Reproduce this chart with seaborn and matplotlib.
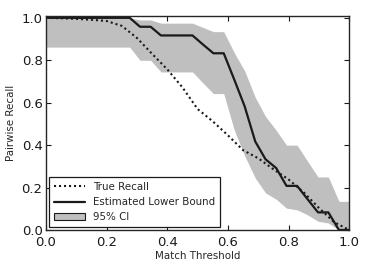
import numpy as np
import pandas as pd
import matplotlib
matplotlib.use("Agg")
import matplotlib.pyplot as plt
import seaborn as sns
from matplotlib.patches import Patch
from matplotlib.lines import Line2D

# match thresholds used by the estimator (and its CI band)
thresholds = [0.0, 0.034, 0.069, 0.103, 0.138, 0.172, 0.207, 0.241, 0.276, 0.310,
              0.345, 0.379, 0.414, 0.448, 0.483, 0.517, 0.552, 0.586, 0.621, 0.655,
              0.690, 0.724, 0.759, 0.793, 0.828, 0.862, 0.897, 0.931, 0.966, 1.0]

lower_bound = [1.0, 1.0, 1.0, 1.0, 1.0, 1.0, 1.0, 1.0, 1.0, 0.958,
               0.958, 0.917, 0.917, 0.917, 0.917, 0.875, 0.833, 0.833, 0.708, 0.583,
               0.417, 0.333, 0.292, 0.208, 0.208, 0.146, 0.083, 0.083, 0.0, 0.0]

ci_upper = [1.0, 1.0, 1.0, 1.0, 1.0, 1.0, 1.0, 1.0, 1.0, 0.99,
            0.99, 0.975, 0.975, 0.975, 0.975, 0.955, 0.935, 0.935, 0.835, 0.75,
            0.625, 0.535, 0.47, 0.40, 0.40, 0.325, 0.25, 0.25, 0.135, 0.135]

ci_lower = [0.862, 0.862, 0.862, 0.862, 0.862, 0.862, 0.862, 0.862, 0.862, 0.80,
            0.80, 0.745, 0.745, 0.745, 0.745, 0.694, 0.643, 0.643, 0.47, 0.35,
            0.245, 0.175, 0.145, 0.103, 0.095, 0.072, 0.041, 0.033, 0.0, 0.0]

# true recall, sampled more finely
true_x = [0.0, 0.05, 0.10, 0.15, 0.20, 0.25, 0.30, 0.35, 0.40, 0.45, 0.50,
          0.55, 0.60, 0.65, 0.70, 0.75, 0.80, 0.85, 0.90, 0.95, 1.0]
true_recall = [1.0, 0.998, 0.995, 0.991, 0.985, 0.962, 0.905, 0.830, 0.757, 0.672, 0.570,
               0.512, 0.446, 0.376, 0.338, 0.286, 0.238, 0.177, 0.104, 0.037, 0.0]

ticks = [0.0, 0.2, 0.4, 0.6, 0.8, 1.0]
tick_labels = ["0.0", "0.2", "0.4", "0.6", "0.8", "1.0"]

sns.set_theme(style="ticks", rc={
    "xtick.direction": "in", "ytick.direction": "in",
    "xtick.top": True, "ytick.right": True,
    "xtick.major.size": 3.5, "ytick.major.size": 3.5,
    "xtick.major.width": 0.8, "ytick.major.width": 0.8,
    "axes.edgecolor": "0.15", "axes.linewidth": 1.0,
})
plt.rcParams['font.family'] = ['DejaVu Sans']

dotted = (0, (1, 1.4))

fig = plt.figure(figsize=(3.66, 2.71), dpi=100)
ax = fig.add_axes([0.1257, 0.1513, 0.8286, 0.7907])

ax.fill_between(thresholds, ci_lower, ci_upper, color="0.75", linewidth=0)
sns.lineplot(x=true_x, y=true_recall, ax=ax, color="k", linestyle=dotted,
             linewidth=1.5, dash_capstyle="butt")
sns.lineplot(x=thresholds, y=lower_bound, ax=ax, color="k", linewidth=1.6)

ax.set_xlim(0, 1)
ax.set_ylim(0, 1.01)
ax.set_xticks(ticks)
ax.set_xticklabels(tick_labels, fontsize=9.5)
ax.set_yticks(ticks)
ax.set_yticklabels(tick_labels, fontsize=9.5)
ax.tick_params(axis="x", pad=4, colors="k")
ax.tick_params(axis="y", pad=2.5, colors="k")
ax.set_xlabel("Match Threshold", fontsize=7.4, labelpad=2)
ax.set_ylabel("Pairwise Recall", fontsize=7.4, labelpad=4)

handles = [
    Line2D([], [], color="k", linestyle=dotted, linewidth=1.5, dash_capstyle="butt"),
    Line2D([], [], color="k", linewidth=1.6),
    Patch(facecolor="0.75", edgecolor="k", linewidth=0.8),
]
labels = ["True Recall", "Estimated Lower Bound", "95% CI"]
leg = ax.legend(handles, labels, loc="lower left", fontsize=7.4, fancybox=False,
                frameon=True, edgecolor="k", framealpha=1, handlelength=3.0,
                borderaxespad=0.3, labelspacing=0.5, borderpad=0.45)
leg.get_frame().set_linewidth(0.9)

fig.savefig("out.png", dpi=100)
